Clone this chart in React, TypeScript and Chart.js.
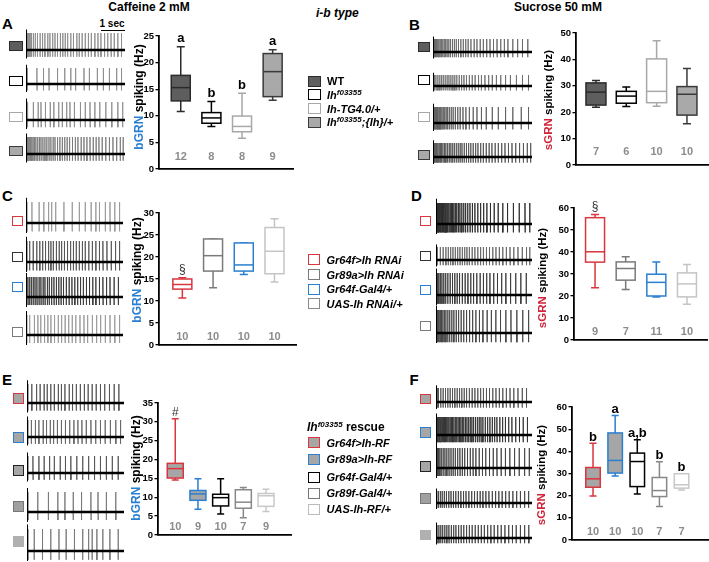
import React, { useEffect, useRef } from 'react';
import { Chart, registerables } from 'chart.js';
Chart.register(...registerables);

const FONT = '"Liberation Sans", Arial, Helvetica, sans-serif';

// ---------------- DATA ----------------
// Panel A: caffeine, bGRN (Hz)
const aTicks = [0, 5, 10, 15, 20, 25];
const aMin = [10.8, 8.0, 5.8, 12.9];
const aQ1 = [12.8, 8.6, 7.0, 13.6];
const aMed = [15.3, 9.6, 8.0, 18.3];
const aQ3 = [17.6, 10.6, 9.95, 21.7];
const aMax = [23.0, 12.7, 14.25, 22.4];
const aN = ['12', '8', '8', '9'];
const aSig = ['a', 'b', 'b', 'a'];

// Panel B: sucrose, sGRN (Hz)
const bTicks = [0, 10, 20, 30, 40, 50];
const bMin = [21.9, 22.2, 22.3, 15.6];
const bQ1 = [22.7, 23.4, 23.6, 18.9];
const bMed = [27.6, 26.1, 27.9, 26.8];
const bQ3 = [31.1, 27.9, 40.2, 29.7];
const bMax = [32.0, 29.5, 47.1, 36.6];
const bN = ['7', '6', '10', '10'];
const bSig = ['', '', '', ''];

// Panel C: caffeine, bGRN, RNAi
const cTicks = [0, 5, 10, 15, 20, 25, 30];
const cMin = [10.7, 13.0, 16.0, 14.3];
const cQ1 = [12.7, 16.8, 16.8, 16.2];
const cMed = [13.75, 20.3, 18.2, 21.3];
const cQ3 = [15.0, 24.1, 23.2, 26.7];
const cMax = [15.3, 24.1, 23.2, 28.7];
const cN = ['10', '10', '10', '10'];
const cSig = ['§', '', '', ''];

// Panel D: sucrose, sGRN, RNAi
const dTicks = [0, 10, 20, 30, 40, 50, 60];
const dMin = [23.7, 23.0, 19.6, 16.2];
const dQ1 = [35.4, 27.2, 20.0, 19.6];
const dMed = [40.1, 32.5, 26.2, 25.5];
const dQ3 = [55.6, 35.5, 29.9, 30.5];
const dMax = [57.1, 37.8, 35.4, 34.3];
const dN = ['9', '7', '11', '10'];
const dSig = ['§', '', '', ''];

// Panel E: caffeine, bGRN, rescue
const eTicks = [0, 5, 10, 15, 20, 25, 30, 35];
const eMin = [14.6, 6.8, 5.6, 4.6, 6.2];
const eQ1 = [15.1, 9.2, 7.7, 7.1, 7.6];
const eMed = [17.6, 10.9, 9.9, 8.7, 10.4];
const eQ3 = [19.0, 11.8, 10.8, 12.0, 11.0];
const eMax = [30.8, 14.9, 14.9, 12.6, 12.1];
const eN = ['10', '9', '10', '7', '9'];
const eSig = ['#', '', '', '', ''];

// Panel F: sucrose, sGRN, rescue
const fTicks = [0, 10, 20, 30, 40, 50, 60];
const fMin = [19.9, 28.9, 20.8, 15.1, 22.6];
const fQ1 = [23.8, 30.2, 24.1, 19.6, 23.4];
const fMed = [27.6, 35.9, 35.4, 22.3, 24.9];
const fQ3 = [32.7, 48.3, 39.2, 28.2, 29.9];
const fMax = [43.6, 56.2, 45.2, 35.3, 29.9];
const fN = ['10', '10', '10', '7', '7'];
const fSig = ['b', 'a', 'a,b', 'b', 'b'];

// Spike trains (s) of the example recordings, and spike amplitudes (a.u.)
const TRACE_DUR = 4.1;
const ARTIFACT_T = 0.012;
const aSpikes = [
  [0.03, 0.06, 0.09, 0.13, 0.17, 0.22, 0.3, 0.38, 0.47, 0.58, 0.68, 0.78, 0.9, 0.99, 1.1, 1.2, 1.3, 1.42, 1.52, 1.62, 1.72, 1.85, 1.96, 2.1, 2.2, 2.32, 2.45, 2.58, 2.7, 2.85, 2.98, 3.1, 3.25, 3.38, 3.52, 3.65, 3.8, 3.95],
  [0.05, 0.45, 0.72, 0.95, 1.3, 1.6, 1.85, 2.05, 2.4, 2.62, 2.95, 3.2, 3.45, 3.75, 3.95],
  [0.06, 0.3, 0.5, 0.62, 0.8, 1.0, 1.15, 1.35, 1.5, 1.68, 1.82, 2.0, 2.25, 2.45, 2.65, 2.85, 3.05, 3.3, 3.55, 3.8, 4.0],
  [0.02, 0.05, 0.08, 0.11, 0.15, 0.19, 0.24, 0.29, 0.35, 0.41, 0.48, 0.55, 0.62, 0.7, 0.78, 0.86, 0.95, 1.03, 1.12, 1.2, 1.3, 1.4, 1.5, 1.6, 1.7, 1.8, 1.92, 2.04, 2.15, 2.28, 2.4, 2.52, 2.65, 2.78, 2.9, 3.02, 3.15, 3.3, 3.45, 3.6, 3.75, 3.9, 4.02],
];
const aAmp = [17, 16, 18, 17];
const bSpikes = [
  [0.02, 0.06, 0.1, 0.14, 0.19, 0.24, 0.29, 0.34, 0.4, 0.46, 0.52, 0.58, 0.65, 0.72, 0.8, 0.88, 0.96, 1.05, 1.15, 1.25, 1.35, 1.45, 1.57, 1.7, 1.82, 1.95, 2.08, 2.22, 2.36, 2.5, 2.65, 2.8, 2.95, 3.1, 3.3, 3.5, 3.7, 3.92],
  [0.05, 0.12, 0.2, 0.28, 0.35, 0.42, 0.5, 0.58, 0.66, 0.74, 0.82, 0.9, 0.98, 1.08, 1.18, 1.28, 1.38, 1.5, 1.62, 1.74, 1.88, 2.0, 2.15, 2.3, 2.45, 2.62, 2.8, 3.0, 3.2, 3.45, 3.7, 3.95],
  [0.02, 0.05, 0.08, 0.11, 0.14, 0.17, 0.2, 0.24, 0.28, 0.32, 0.37, 0.42, 0.48, 0.54, 0.6, 0.67, 0.75, 0.83, 0.92, 1.02, 1.12, 1.24, 1.36, 1.5, 1.66, 1.82, 2.0, 2.2, 2.45, 2.7, 3.0, 3.3, 3.65, 3.95],
  [0.03, 0.07, 0.11, 0.15, 0.2, 0.25, 0.3, 0.35, 0.41, 0.47, 0.53, 0.6, 0.67, 0.74, 0.81, 0.88, 0.96, 1.04, 1.12, 1.2, 1.29, 1.38, 1.47, 1.56, 1.66, 1.76, 1.86, 1.97, 2.08, 2.2, 2.32, 2.44, 2.57, 2.7, 2.84, 2.98, 3.12, 3.27, 3.42, 3.58, 3.74, 3.9, 4.04],
];
const bAmp = [13, 11, 16, 14];
const cSpikes = [
  [0.04, 0.25, 0.55, 0.75, 0.95, 1.08, 1.25, 1.6, 1.95, 2.25, 2.5, 2.75, 2.95, 3.1, 3.35, 3.55, 3.75, 3.95],
  [0.03, 0.15, 0.3, 0.45, 0.58, 0.7, 0.82, 0.95, 1.05, 1.15, 1.28, 1.4, 1.5, 1.62, 1.75, 1.88, 2.0, 2.12, 2.25, 2.38, 2.5, 2.65, 2.8, 2.95, 3.1, 3.25, 3.42, 3.6, 3.78, 3.95],
  [0.02, 0.08, 0.15, 0.22, 0.3, 0.38, 0.46, 0.55, 0.63, 0.72, 0.8, 0.9, 0.98, 1.08, 1.18, 1.28, 1.38, 1.48, 1.58, 1.7, 1.82, 1.94, 2.06, 2.18, 2.3, 2.42, 2.55, 2.68, 2.82, 2.95, 3.1, 3.25, 3.4, 3.55, 3.72, 3.9],
  [0.03, 0.15, 0.35, 0.5, 0.62, 0.78, 0.92, 1.05, 1.2, 1.36, 1.5, 1.65, 1.8, 1.95, 2.1, 2.28, 2.45, 2.6, 2.8, 2.98, 3.15, 3.35, 3.55, 3.75, 3.95],
];
const cAmp = [21, 21, 20, 20];
const dSpikes = [
  [0.02, 0.04, 0.06, 0.08, 0.1, 0.12, 0.15, 0.18, 0.21, 0.24, 0.27, 0.3, 0.34, 0.38, 0.42, 0.46, 0.5, 0.55, 0.6, 0.65, 0.7, 0.76, 0.82, 0.88, 0.95, 1.02, 1.1, 1.18, 1.26, 1.35, 1.45, 1.55, 1.66, 1.78, 1.9, 2.03, 2.17, 2.32, 2.48, 2.65, 2.85, 3.05, 3.3, 3.55, 3.8, 4.0],
  [0.05, 0.18, 0.3, 0.42, 0.52, 0.62, 0.72, 0.82, 0.92, 1.02, 1.12, 1.22, 1.32, 1.42, 1.54, 1.66, 1.78, 1.9, 2.02, 2.15, 2.28, 2.42, 2.56, 2.7, 2.85, 3.0, 3.16, 3.32, 3.5, 3.68, 3.86, 4.0],
  [0.03, 0.07, 0.12, 0.18, 0.25, 0.33, 0.41, 0.5, 0.6, 0.7, 0.8, 0.9, 1.0, 1.12, 1.24, 1.36, 1.48, 1.6, 1.74, 1.88, 2.02, 2.16, 2.3, 2.46, 2.62, 2.8, 2.98, 3.18, 3.4, 3.62, 3.85],
  [0.02, 0.05, 0.09, 0.13, 0.18, 0.23, 0.29, 0.35, 0.42, 0.5, 0.58, 0.67, 0.76, 0.86, 0.96, 1.07, 1.18, 1.3, 1.43, 1.56, 1.7, 1.85, 2.0, 2.18, 2.36, 2.55, 2.75, 2.98, 3.2, 3.45, 3.7, 3.95],
];
const dAmp = [21, 13, 22, 23];
const eSpikes = [
  [0.03, 0.2, 0.4, 0.55, 0.72, 0.85, 1.0, 1.15, 1.32, 1.45, 1.6, 1.78, 1.92, 2.08, 2.25, 2.42, 2.58, 2.75, 2.92, 3.1, 3.28, 3.48, 3.68, 3.88],
  [0.03, 0.18, 0.35, 0.5, 0.68, 0.82, 0.98, 1.12, 1.28, 1.45, 1.62, 1.8, 1.98, 2.15, 2.32, 2.5, 2.7, 2.9, 3.1, 3.3, 3.52, 3.75, 3.95],
  [0.03, 0.25, 0.5, 0.72, 0.95, 1.15, 1.4, 1.62, 1.85, 2.1, 2.35, 2.6, 2.85, 3.1, 3.35, 3.6, 3.85],
  [0.04, 0.45, 0.9, 1.3, 1.6, 1.95, 2.3, 2.7, 3.0, 3.35, 3.75],
  [0.04, 0.3, 0.65, 1.0, 1.35, 1.65, 2.0, 2.35, 2.6, 2.75, 2.95, 3.2, 3.5, 3.85],
];
const eAmp = [19, 17, 17, 20, 22];
const fSpikes = [
  [0.02, 0.05, 0.1, 0.2, 0.3, 0.4, 0.5, 0.6, 0.7, 0.8, 0.9, 1.0, 1.1, 1.2, 1.3, 1.42, 1.54, 1.66, 1.78, 1.9, 2.02, 2.15, 2.28, 2.42, 2.56, 2.7, 2.85, 3.0, 3.16, 3.32, 3.5, 3.68, 3.86],
  [0.02, 0.05, 0.08, 0.11, 0.14, 0.17, 0.2, 0.24, 0.28, 0.32, 0.36, 0.4, 0.45, 0.5, 0.55, 0.6, 0.65, 0.7, 0.76, 0.82, 0.88, 0.94, 1.0, 1.06, 1.12, 1.18, 1.25, 1.32, 1.39, 1.46, 1.53, 1.6, 1.68, 1.76, 1.84, 1.92, 2.0, 2.1, 2.2, 2.3, 2.4, 2.5, 2.6, 2.72, 2.84, 2.96, 3.1, 3.24, 3.4, 3.56, 3.72, 3.9],
  [0.02, 0.06, 0.1, 0.16, 0.22, 0.3, 0.38, 0.46, 0.55, 0.64, 0.73, 0.82, 0.92, 1.02, 1.12, 1.22, 1.34, 1.46, 1.58, 1.7, 1.84, 1.98, 2.12, 2.28, 2.44, 2.6, 2.78, 2.96, 3.15, 3.35, 3.55, 3.78, 3.98],
  [0.03, 0.1, 0.18, 0.26, 0.35, 0.44, 0.54, 0.64, 0.74, 0.84, 0.95, 1.06, 1.17, 1.28, 1.4, 1.52, 1.64, 1.76, 1.88, 2.0, 2.13, 2.26, 2.4, 2.54, 2.68, 2.82, 2.97, 3.12, 3.28, 3.44, 3.6, 3.78, 3.95],
  [0.04, 0.12, 0.2, 0.28, 0.37, 0.46, 0.55, 0.65, 0.75, 0.85, 0.96, 1.07, 1.18, 1.3, 1.42, 1.54, 1.67, 1.8, 1.93, 2.06, 2.2, 2.34, 2.48, 2.63, 2.78, 2.94, 3.1, 3.26, 3.42, 3.6, 3.78, 3.96],
];
const fAmp = [14, 18, 20, 12, 13];

// ---------------- STYLES ----------------
const RED = '#d9363e';
const BLUE = '#2a7fd0';
const GREY_FILL = '#a6a6a6';
const styleAB = { fill: ['#5e5e5e', '#ffffff', '#ffffff', '#a9a9a9'], stroke: ['#2b2b2b', '#000000', '#a8a8a8', '#3a3a3a'] };
const styleCD = { fill: ['#ffffff', '#ffffff', '#ffffff', '#ffffff'], stroke: [RED, '#7a7a7a', BLUE, '#c4c4c4'] };
const styleEF = { fill: [GREY_FILL, GREY_FILL, '#ffffff', '#ffffff', '#ffffff'], stroke: [RED, BLUE, '#000000', '#888888', '#c8c8c8'] };

const boxPlugin = {
  id: 'boxplot',
  afterDatasetsDraw(chart: any, _args: any, o: any) {
    const { ctx, chartArea } = chart;
    const x = chart.scales.x;
    const y = chart.scales.y;
    ctx.save();
    ctx.lineWidth = 1.5;
    for (let i = 0; i < o.med.length; i++) {
      const cx = x.getPixelForValue(i + 1);
      const hw = o.boxW / 2;
      const cw = o.capW / 2;
      const pMin = y.getPixelForValue(o.min[i]);
      const pQ1 = y.getPixelForValue(o.q1[i]);
      const pMed = y.getPixelForValue(o.med[i]);
      const pQ3 = y.getPixelForValue(o.q3[i]);
      const pMax = y.getPixelForValue(o.max[i]);
      ctx.strokeStyle = o.stroke[i];
      ctx.beginPath();
      ctx.moveTo(cx, pQ3); ctx.lineTo(cx, pMax);
      ctx.moveTo(cx - cw, pMax); ctx.lineTo(cx + cw, pMax);
      ctx.moveTo(cx, pQ1); ctx.lineTo(cx, pMin);
      ctx.moveTo(cx - cw, pMin); ctx.lineTo(cx + cw, pMin);
      ctx.stroke();
      ctx.fillStyle = o.fill[i];
      ctx.fillRect(cx - hw, pQ3, 2 * hw, pQ1 - pQ3);
      ctx.strokeRect(cx - hw, pQ3, 2 * hw, pQ1 - pQ3);
      ctx.beginPath();
      ctx.moveTo(cx - hw, pMed); ctx.lineTo(cx + hw, pMed);
      ctx.stroke();
      ctx.textAlign = 'center';
      ctx.textBaseline = 'middle';
      ctx.fillStyle = '#8c8c8c';
      ctx.font = `bold 11px ${FONT}`;
      ctx.fillText(o.n[i], cx, chartArea.bottom - o.nOff);
      if (o.sig[i]) {
        const isSym = o.sig[i] === '§' || o.sig[i] === '#';
        ctx.font = isSym ? `12px ${FONT}` : `bold 13px ${FONT}`;
        ctx.fillStyle = isSym ? '#333333' : '#000000';
        ctx.textBaseline = 'alphabetic';
        ctx.fillText(o.sig[i], cx, pMax - o.sigGap);
      }
    }
    ctx.restore();
  },
};

type BoxSpec = {
  ticks: number[]; min: number[]; q1: number[]; med: number[]; q3: number[]; max: number[];
  n: string[]; sig: string[]; fill: string[]; stroke: string[];
  axisX: number; yTop: number; y0: number; axisEnd: number; xMin: number; xMax: number;
  boxW: number; capW: number; nOff: number; sigGap: number;
};

const PAD_L = 30;
const PAD_T = 10;
const PAD_B = 10;
const PAD_R = 4;

function boxConfig(s: BoxSpec): any {
  return {
    type: 'scatter',
    data: { datasets: [{ data: s.med.map((m, i) => ({ x: i + 1, y: m })), pointRadius: 0, showLine: false }] },
    options: {
      animation: false,
      responsive: false,
      events: [],
      layout: { padding: { top: PAD_T, right: PAD_R, bottom: 0, left: 0 } },
      plugins: {
        legend: { display: false },
        tooltip: { enabled: false },
        boxplot: { min: s.min, q1: s.q1, med: s.med, q3: s.q3, max: s.max, n: s.n, sig: s.sig, fill: s.fill, stroke: s.stroke, boxW: s.boxW, capW: s.capW, nOff: s.nOff, sigGap: s.sigGap },
      },
      scales: {
        x: {
          type: 'linear', min: s.xMin, max: s.xMax,
          ticks: { display: false }, grid: { display: false },
          border: { display: true, color: '#000', width: 1.8 },
          afterFit: (sc: any) => { sc.height = PAD_B; },
        },
        y: {
          type: 'linear', min: s.ticks[0], max: s.ticks[s.ticks.length - 1],
          ticks: { stepSize: s.ticks[1] - s.ticks[0], color: '#000', padding: 1.5, font: { family: FONT, size: 9.5, weight: 'bold' } },
          grid: { display: true, drawOnChartArea: false, drawTicks: true, tickLength: 3.5, color: '#000', lineWidth: 1.3 },
          border: { display: true, color: '#000', width: 1.8 },
          afterFit: (sc: any) => { sc.width = PAD_L; },
        },
      },
    },
    plugins: [boxPlugin],
  };
}

function traceConfig(spikes: number[], amp: number, color: string): any {
  const pts: { x: number; y: number }[] = [];
  for (const t of spikes) {
    pts.push({ x: t, y: 0 }, { x: t, y: amp }, { x: t + 0.006, y: -amp * 0.4 }, { x: t + 0.012, y: 0 });
  }
  const art = [
    { x: ARTIFACT_T, y: 0 }, { x: ARTIFACT_T, y: amp * 1.2 },
    { x: ARTIFACT_T + 0.006, y: -amp * 0.5 }, { x: ARTIFACT_T + 0.012, y: 0 },
  ];
  return {
    type: 'line',
    data: {
      datasets: [
        { data: [{ x: 0, y: 0 }, { x: TRACE_DUR, y: 0 }], borderColor: '#000', borderWidth: 2.3, pointRadius: 0 },
        { data: art, borderColor: '#000', borderWidth: 1.2, pointRadius: 0 },
        { data: pts, borderColor: color, borderWidth: 0.9, pointRadius: 0 },
      ],
    },
    options: {
      animation: false, responsive: false, events: [],
      plugins: { legend: { display: false }, tooltip: { enabled: false } },
      layout: { padding: 0 },
      scales: {
        x: { type: 'linear', display: false, min: 0, max: TRACE_DUR },
        y: { type: 'linear', display: false, min: -10, max: 30 },
      },
    },
  };
}

function ChartCanvas({ make, left, top, width, height }: { make: () => any; left: number; top: number; width: number; height: number }) {
  const ref = useRef<HTMLCanvasElement>(null);
  useEffect(() => {
    const c = new Chart(ref.current as HTMLCanvasElement, make());
    return () => c.destroy();
  }, []);
  const w = Math.round(width);
  const h = Math.round(height);
  return <canvas ref={ref} width={w} height={h} style={{ position: 'absolute', left, top, width: w, height: h }} />;
}

function BoxChart({ s }: { s: BoxSpec }) {
  const left = s.axisX - PAD_L;
  const top = s.yTop - PAD_T;
  const width = s.axisEnd - s.axisX + PAD_L + PAD_R;
  const height = s.y0 - s.yTop + PAD_T + PAD_B;
  return <ChartCanvas make={() => boxConfig(s)} left={left} top={top} width={width} height={height} />;
}

type TraceSpec = {
  x0: number; w: number; base: number[]; spikes: number[][]; amp: number[]; colors: string[];
  sq: { x: number; w: number; h: number; cy: number[]; fill: string[]; border: string[] };
};

function Traces({ t }: { t: TraceSpec }) {
  return (
    <>
      {t.spikes.map((sp, i) => (
        <ChartCanvas key={'t' + i} make={() => traceConfig(sp, t.amp[i], t.colors[i])} left={t.x0} top={t.base[i] - 30} width={t.w} height={40} />
      ))}
      {t.sq.cy.map((cy, i) => (
        <div key={'s' + i} style={{ position: 'absolute', left: t.sq.x, top: cy - t.sq.h / 2, width: t.sq.w, height: t.sq.h, boxSizing: 'border-box', border: `1.6px solid ${t.sq.border[i]}`, background: t.sq.fill[i] }} />
      ))}
    </>
  );
}

function Txt({ x, y, children, style }: { x: number; y: number; children: React.ReactNode; style?: React.CSSProperties }) {
  return (
    <div style={{ position: 'absolute', left: x, top: y, transform: 'translateY(-50%)', whiteSpace: 'nowrap', lineHeight: 1, fontFamily: FONT, ...style }}>
      {children}
    </div>
  );
}

function CTxt({ x, y, children, style }: { x: number; y: number; children: React.ReactNode; style?: React.CSSProperties }) {
  return (
    <div style={{ position: 'absolute', left: x, top: y, transform: 'translate(-50%,-50%)', whiteSpace: 'nowrap', lineHeight: 1, fontFamily: FONT, ...style }}>
      {children}
    </div>
  );
}

function YTitle({ x, y, tag, color, size }: { x: number; y: number; tag: string; color: string; size: number }) {
  return (
    <div style={{ position: 'absolute', left: x, top: y, transform: 'translate(-50%,-50%) rotate(-90deg)', whiteSpace: 'nowrap', lineHeight: 1, fontFamily: FONT, fontSize: size, fontWeight: 'bold' }}>
      <span style={{ color }}>{tag}</span> spiking (Hz)
    </div>
  );
}

const Sup = ({ children }: { children: React.ReactNode }) => (
  <span style={{ fontSize: 8, position: 'relative', top: -4 }}>{children}</span>
);

function LegendRow({ x, y, fill, border, children }: { x: number; y: number; fill: string; border: string; children: React.ReactNode }) {
  return (
    <>
      <div style={{ position: 'absolute', left: x, top: y - 5.5, width: 12.5, height: 11, boxSizing: 'border-box', border: `1.6px solid ${border}`, background: fill }} />
      <Txt x={x + 19} y={y} style={{ fontSize: 11, fontWeight: 'bold', fontStyle: 'italic' }}>{children}</Txt>
    </>
  );
}

const boxes: BoxSpec[] = [
  { ticks: aTicks, min: aMin, q1: aQ1, med: aMed, q3: aQ3, max: aMax, n: aN, sig: aSig, ...styleAB, axisX: 159.3, yTop: 36.3, y0: 169.7, axisEnd: 293, xMin: 0.29, xMax: 4.664, boxW: 19, capW: 8, nOff: 12.4, sigGap: 4.5 },
  { ticks: bTicks, min: bMin, q1: bQ1, med: bMed, q3: bQ3, max: bMax, n: bN, sig: bSig, ...styleAB, axisX: 575.7, yTop: 33.3, y0: 165.7, axisEnd: 708, xMin: 0.342, xMax: 4.694, boxW: 20, capW: 8, nOff: 13, sigGap: 4.5 },
  { ticks: cTicks, min: cMin, q1: cQ1, med: cMed, q3: cQ3, max: cMax, n: cN, sig: cSig, ...styleCD, axisX: 159.3, yTop: 213.3, y0: 345.7, axisEnd: 296.7, xMin: 0.24, xMax: 4.7, boxW: 19, capW: 8, nOff: 8, sigGap: 5 },
  { ticks: dTicks, min: dMin, q1: dQ1, med: dMed, q3: dQ3, max: dMax, n: dN, sig: dSig, ...styleCD, axisX: 574, yTop: 207.7, y0: 340, axisEnd: 706.7, xMin: 0.313, xMax: 4.654, boxW: 19, capW: 8, nOff: 7.7, sigGap: 4 },
  { ticks: eTicks, min: eMin, q1: eQ1, med: eMed, q3: eQ3, max: eMax, n: eN, sig: eSig, ...styleEF, axisX: 157.7, yTop: 403.3, y0: 535, axisEnd: 291, xMin: 0.24, xMax: 6.1, boxW: 16, capW: 7, nOff: 8.3, sigGap: 2.5 },
  { ticks: fTicks, min: fMin, q1: fQ1, med: fMed, q3: fQ3, max: fMax, n: fN, sig: fSig, ...styleEF, axisX: 571.7, yTop: 407.3, y0: 540, axisEnd: 708.5, xMin: 0.05, xMax: 6.24, boxW: 14.5, capW: 7, nOff: 7.7, sigGap: 2.5 },
];

const sqAB = { fill: ['#5e5e5e', '#ffffff', '#ffffff', '#a9a9a9'], border: ['#2b2b2b', '#000000', '#a8a8a8', '#3a3a3a'] };
const sqCD = { fill: ['#ffffff', '#ffffff', '#ffffff', '#ffffff'], border: [RED, '#333333', BLUE, '#7a7a7a'] };
const sqEF = { fill: [GREY_FILL, GREY_FILL, GREY_FILL, '#a0a0a0', '#b0b0b0'], border: [RED, BLUE, '#222222', '#777777', '#b0b0b0'] };

const traces: TraceSpec[] = [
  { x0: 26, w: 99, base: [50, 84, 120, 154], spikes: aSpikes, amp: aAmp, colors: ['#8c8c8c', '#8c8c8c', '#8c8c8c', '#7a7a7a'], sq: { x: 9, w: 14, h: 10, cy: [45.7, 80.7, 116.7, 151], ...sqAB } },
  { x0: 433, w: 99, base: [51.7, 86, 122.7, 157.3], spikes: bSpikes, amp: bAmp, colors: ['#6a6a6a', '#707070', '#606060', '#555555'], sq: { x: 418, w: 12, h: 10, cy: [46.7, 80, 117.3, 155], ...sqAB } },
  { x0: 26, w: 97, base: [223.3, 261.7, 297.3, 335], spikes: cSpikes, amp: cAmp, colors: ['#999999', '#555555', '#3a3a3a', '#999999'], sq: { x: 12, w: 11, h: 10, cy: [220.7, 256.7, 286.7, 331.7], ...sqCD } },
  { x0: 436, w: 96, base: [224, 260, 295, 333.3], spikes: dSpikes, amp: dAmp, colors: ['#2a2a2a', '#666666', '#3a3a3a', '#444444'], sq: { x: 420, w: 10.5, h: 10, cy: [220.7, 256, 290, 326], ...sqCD } },
  { x0: 27, w: 97, base: [403.3, 436.7, 473.3, 511.7, 550.7], spikes: eSpikes, amp: eAmp, colors: ['#555555', '#666666', '#555555', '#777777', '#777777'], sq: { x: 12.5, w: 11.5, h: 11, cy: [398.3, 437.3, 470.7, 506.7, 541.7], ...sqEF } },
  { x0: 436, w: 96, base: [401.7, 435, 468.3, 503.3, 538.3], spikes: fSpikes, amp: fAmp, colors: ['#555555', '#333333', '#444444', '#444444', '#444444'], sq: { x: 420, w: 10.5, h: 10.5, cy: [399, 432.7, 466.7, 498.3, 535], ...sqEF } },
];

const panelLetter: React.CSSProperties = { fontSize: 15, fontWeight: 'bold' };

export default function App() {
  return (
    <div style={{ position: 'fixed', left: 0, top: 0, width: 709, height: 562, overflow: 'hidden', background: '#fff', fontFamily: FONT }}>
      <CTxt x={149} y={7} style={{ fontSize: 12, fontWeight: 'bold' }}>Caffeine 2 mM</CTxt>
      <CTxt x={558} y={7} style={{ fontSize: 12, fontWeight: 'bold' }}>Sucrose 50 mM</CTxt>
      <Txt x={316} y={12.5} style={{ fontSize: 12, fontWeight: 'bold', fontStyle: 'italic' }}>i-b type</Txt>

      <Txt x={2} y={22.5} style={panelLetter}>A</Txt>
      <Txt x={409} y={24} style={panelLetter}>B</Txt>
      <Txt x={2} y={195} style={panelLetter}>C</Txt>
      <Txt x={411} y={195} style={panelLetter}>D</Txt>
      <Txt x={2} y={379} style={panelLetter}>E</Txt>
      <Txt x={409.5} y={378.5} style={panelLetter}>F</Txt>

      <CTxt x={112} y={23.5} style={{ fontSize: 10, fontWeight: 'bold' }}>1 sec</CTxt>
      <div style={{ position: 'absolute', left: 101, top: 29.5, width: 24, height: 1.6, background: '#000' }} />

      {traces.map((t, i) => <Traces key={'tr' + i} t={t} />)}
      {boxes.map((b, i) => <BoxChart key={'bx' + i} s={b} />)}

      <YTitle x={138.5} y={97} tag="bGRN" color={BLUE} size={12} />
      <YTitle x={549} y={100} tag="sGRN" color="#d0243a" size={11.5} />
      <YTitle x={137} y={270} tag="bGRN" color={BLUE} size={12} />
      <YTitle x={543} y={278} tag="sGRN" color="#d0243a" size={11.5} />
      <YTitle x={135.5} y={468} tag="bGRN" color={BLUE} size={12} />
      <YTitle x={542} y={475} tag="sGRN" color="#d0243a" size={11.5} />

      {/* Legend A/B */}
      <LegendRow x={308} y={81} fill={sqAB.fill[0]} border={sqAB.border[0]}><span style={{ fontStyle: 'normal' }}>WT</span></LegendRow>
      <LegendRow x={308} y={94.7} fill={sqAB.fill[1]} border={sqAB.border[1]}>Ih<Sup>f03355</Sup></LegendRow>
      <LegendRow x={308} y={108.7} fill={sqAB.fill[2]} border={sqAB.border[2]}>Ih-TG4.0/+</LegendRow>
      <LegendRow x={308} y={122} fill={sqAB.fill[3]} border={sqAB.border[3]}>Ih<Sup>f03355</Sup>;{'{Ih}'}/+</LegendRow>

      {/* Legend C/D */}
      <LegendRow x={307.5} y={259.5} fill="#fff" border={RED}>Gr64f&gt;Ih RNAi</LegendRow>
      <LegendRow x={307.5} y={274.5} fill="#fff" border="#7a7a7a">Gr89a&gt;Ih RNAi</LegendRow>
      <LegendRow x={307.5} y={289} fill="#fff" border={BLUE}>Gr64f-Gal4/+</LegendRow>
      <LegendRow x={307.5} y={303.8} fill="#fff" border="#8a8a8a">UAS-Ih RNAi/+</LegendRow>

      {/* Legend E/F */}
      <Txt x={307} y={426.5} style={{ fontSize: 12, fontWeight: 'bold' }}><i>Ih</i><i><Sup>f03355</Sup></i> rescue</Txt>
      <LegendRow x={307.5} y={442.7} fill={GREY_FILL} border={RED}>Gr64f&gt;Ih-RF</LegendRow>
      <LegendRow x={307.5} y={459} fill={GREY_FILL} border={BLUE}>Gr89a&gt;Ih-RF</LegendRow>
      <LegendRow x={307.5} y={477} fill="#fff" border="#000">Gr64f-Gal4/+</LegendRow>
      <LegendRow x={307.5} y={493} fill="#fff" border="#777">Gr89f-Gal4/+</LegendRow>
      <LegendRow x={307.5} y={509} fill="#fff" border="#bbb">UAS-Ih-RF/+</LegendRow>
    </div>
  );
}
